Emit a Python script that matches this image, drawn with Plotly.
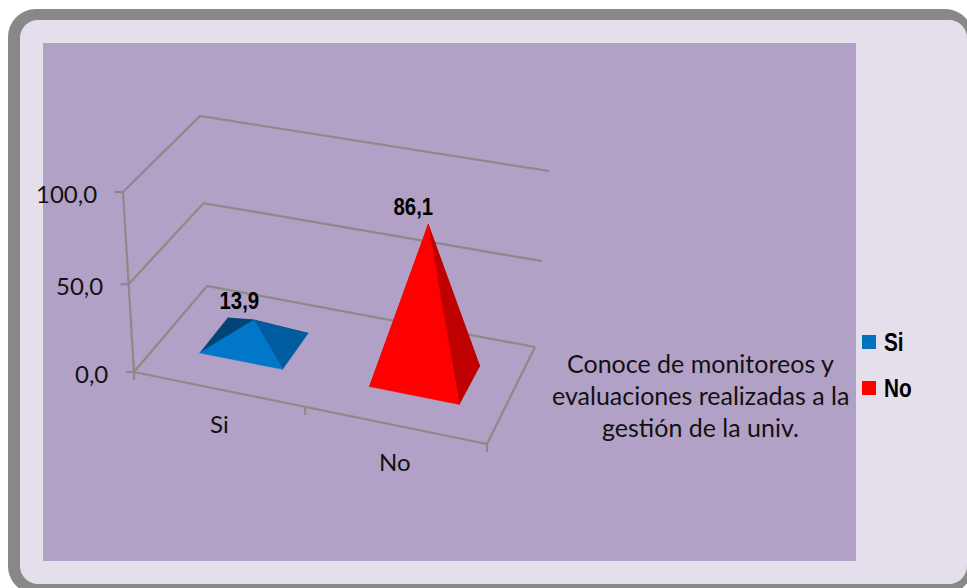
import plotly.graph_objects as go

categories = ["Si", "No"]
values = [13.9, 86.1]
value_ticks = [0, 50, 100]
value_tick_labels = ["0,0", "50,0", "100,0"]
data_labels = ["13,9", "86,1"]
axis_title_lines = ["Conoce de monitoreos y", "evaluaciones realizadas a la", "gestión de la univ."]

# Colours
FACE_COLORS = [
    {"front": "#0077C8", "right": "#005C9E", "left": "#004478", "back": "#004478"},
    {"front": "#FF0000", "right": "#BF0000", "left": "#BF0000", "back": "#BF0000"},
]
LEGEND_COLORS = ["#0070C0", "#FF0000"]
GRID = "#8A8A86"

# Oblique 3D box of the chart, as seen on screen
FL0, FL1 = (134, 372), (123, 192)
BL0, BL1 = (207, 286), (200, 116)
BR0, BR1 = (535, 347), (549, 171)
FR0, FR1 = (487, 444), (488, 262)


def lerp(a, b, t):
    return (a[0] + (b[0] - a[0]) * t, a[1] + (b[1] - a[1]) * t)


def project(u, d, v):
    t = v / 100
    t = t / (t + 1.05 * (1 - t))
    fl, bl, br, fr = lerp(FL0, FL1, t), lerp(BL0, BL1, t), lerp(BR0, BR1, t), lerp(FR0, FR1, t)
    return lerp(lerp(fl, fr, u), lerp(bl, br, u), d)


fig = go.Figure()


def line(points, width=2.2):
    fig.add_trace(go.Scatter(x=[p[0] for p in points], y=[p[1] for p in points], mode="lines",
                             line=dict(color=GRID, width=width), showlegend=False, hoverinfo="skip"))


# grid on the walls
for v in value_ticks:
    line([project(0, 0, v), project(0, 1, v), project(1, 1, v)])
line([project(0, 0, 0), project(0, 0, 100)])
line([project(0, 0, 0), project(1, 0, 0), project(1, 1, 0)])
# ticks
for v in value_ticks:
    x, y = project(0, 0, v)
    line([(x - 8, y), (x, y)])
for u in (0, 0.485, 1):
    x, y = project(u, 0, 0)
    line([(x, y), (x, y + 8)])

# pyramids
CENTERS = [(0.243, 0.52), (0.745, 0.52)]
HALF_U = [0.12, 0.13]
B = 0.2
for i, val in enumerate(values):
    cu, cd = CENTERS[i]
    A = HALF_U[i]
    fl = project(cu - A, cd - B, 0)
    fr = project(cu + A, cd - B, 0)
    br = project(cu + A, cd + B, 0)
    bl = project(cu - A, cd + B, 0)
    apex = project(cu, cd, val)
    for name, tri in (("back", (bl, br)), ("left", (bl, fl)), ("right", (fr, br)), ("front", (fl, fr))):
        c = FACE_COLORS[i][name]
        xs = [tri[0][0], tri[1][0], apex[0], tri[0][0]]
        ys = [tri[0][1], tri[1][1], apex[1], tri[0][1]]
        fig.add_trace(go.Scatter(x=xs, y=ys, mode="lines", fill="toself", fillcolor=c,
                                 line=dict(color=c, width=0.5), showlegend=False,
                                 name=categories[i], hoverinfo="name"))
    fig.add_annotation(x=apex[0], y=apex[1], text=f"<b>{data_labels[i]}</b>", showarrow=False,
                       xshift=[-14, -15][i], yshift=[19, 18][i],
                       font=dict(family="Liberation Sans", size=24, color="black"))

for i, c in enumerate(categories):
    ly = [342, 388][i]
    fig.add_trace(go.Scatter(x=[869], y=[ly], mode="markers", name=c, showlegend=False,
                             marker=dict(symbol="square", size=14, color=LEGEND_COLORS[i]), hoverinfo="name"))
    fig.add_annotation(x=882, y=ly, text=f"<b>{c}</b>", showarrow=False, xanchor="left",
                       font=dict(family="Liberation Sans", size=26, color="black"))

TEXT = dict(family="Lato", size=25, color="#111111")
TICK = dict(family="Lato", size=24, color="#111111")
for v, lab in zip(value_ticks, value_tick_labels):
    x, y = project(0, 0, v)
    fig.add_annotation(x=x - 24, y=y + 1, text=lab, showarrow=False, xanchor="right", font=TICK)
for u, c, dx, dy in ((0.25, categories[0], -3, 33), (0.75, categories[1], -4, 35)):
    x, y = project(u, 0, 0)
    fig.add_annotation(x=x + dx, y=y + dy, text=c, showarrow=False, font=TICK)
for yy, t in zip((363, 395, 427), axis_title_lines):
    fig.add_annotation(x=700, y=yy, text=t, showarrow=False, font=TEXT)


def rounded(x0, y0, x1, y1, r):
    k = r * 0.448
    return (f"M {x0+r} {y0} L {x1-r} {y0} C {x1-k} {y0} {x1} {y0+k} {x1} {y0+r} "
            f"L {x1} {y1-r} C {x1} {y1-k} {x1-k} {y1} {x1-r} {y1} "
            f"L {x0+r} {y1} C {x0+k} {y1} {x0} {y1-k} {x0} {y1-r} "
            f"L {x0} {y0+r} C {x0} {y0+k} {x0+k} {y0} {x0+r} {y0} Z")


shapes = [
    dict(type="path", path=rounded(8, 9, 973, 594, 28), fillcolor="#888888", line_width=0, layer="below"),
    dict(type="path", path=rounded(20, 20, 967, 584, 18), fillcolor="#E5DFEC", line_width=0, layer="below"),
    dict(type="rect", x0=43, x1=856, y0=43, y1=561, fillcolor="#B2A1C7", line_width=0, layer="below"),
]

fig.update_layout(
    width=967, height=588, margin=dict(l=0, r=0, t=0, b=0), autosize=False,
    paper_bgcolor="white", plot_bgcolor="rgba(0,0,0,0)",
    xaxis=dict(range=[0, 967], visible=False, fixedrange=True),
    yaxis=dict(range=[588, 0], visible=False, fixedrange=True),
    shapes=shapes, showlegend=False,
)

# The bold labels are set in a narrow face in the reference; no narrow face is installed, so condense them.
POST = """
document.body.style.margin='0';document.body.style.overflow='hidden';
setTimeout(function(){
  document.querySelectorAll('.annotation-text').forEach(function(t){
    var s=t.getAttribute('data-unformatted')||'';
    if(s.indexOf('<b>')!==0) return;
    var b=t.getBBox();
    var legend=(s==='<b>Si</b>'||s==='<b>No</b>');
    var k=legend?0.8:0.85;
    var cx=legend?b.x:b.x+b.width/2;
    t.setAttribute('transform','translate('+cx+',0) scale('+k+',1) translate('+(-cx)+',0)');
  });
},100);
"""
fig.write_html("out.html", post_script=POST, config={"displayModeBar": False})
